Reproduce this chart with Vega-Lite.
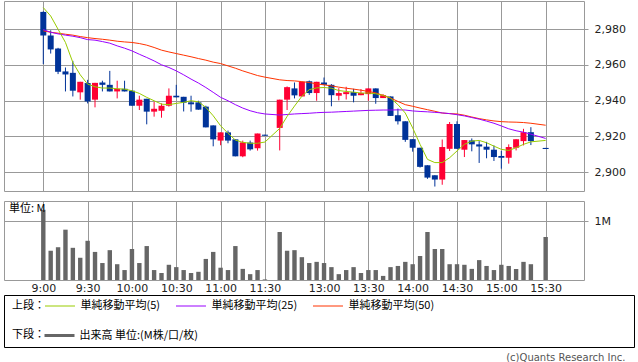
{
"$schema": "https://vega.github.io/schema/vega-lite/v6.json",
"padding": {"left": 3, "top": 0, "right": 0, "bottom": 0},
"config": {
  "view": {"stroke": "#999999"},
  "font": "DejaVu Sans",
  "axis": {"gridColor": "#999999", "gridOpacity": 1, "labelFont": "DejaVu Sans", "labelFontSize": 11, "labelColor": "#222222", "tickColor": "#999999", "domain": false}
},
"title": {"text": "(c)Quants Research Inc.", "orient": "bottom", "anchor": "end", "fontSize": 10, "fontWeight": "normal", "font": "DejaVu Sans", "color": "#555555", "offset": 5, "dx": -9},
"datasets": {
"bars": [
{"i":0,"o":2989.7,"h":2990.0,"l":2960.5,"c":2976.5,"vol":1.20,"m5":2992.1,"m25":2979.8,"m50":2979.1},
{"i":1,"o":2976.5,"h":2979.4,"l":2966.4,"c":2968.7,"vol":0.50,"m5":2987.4,"m25":2978.3,"m50":2978.3},
{"i":2,"o":2969.2,"h":2969.6,"l":2954.9,"c":2956.2,"vol":0.56,"m5":2980.0,"m25":2977.4,"m50":2977.8},
{"i":3,"o":2956.4,"h":2958.6,"l":2945.2,"c":2954.7,"vol":0.86,"m5":2972.6,"m25":2976.7,"m50":2977.2},
{"i":4,"o":2955.6,"h":2962.3,"l":2942.4,"c":2945.6,"vol":0.55,"m5":2961.4,"m25":2976.1,"m50":2976.7},
{"i":5,"o":2944.7,"h":2950.6,"l":2940.6,"c":2950.6,"vol":0.38,"m5":2954.5,"m25":2975.3,"m50":2975.9},
{"i":6,"o":2949.9,"h":2951.7,"l":2938.5,"c":2939.6,"vol":0.67,"m5":2949.3,"m25":2974.2,"m50":2975.3},
{"i":7,"o":2940.6,"h":2950.0,"l":2936.3,"c":2950.0,"vol":0.48,"m5":2947.8,"m25":2973.9,"m50":2974.8},
{"i":8,"o":2950.2,"h":2951.2,"l":2945.2,"c":2948.9,"vol":0.29,"m5":2947.1,"m25":2973.1,"m50":2974.4},
{"i":9,"o":2948.9,"h":2956.7,"l":2945.2,"c":2945.2,"vol":0.51,"m5":2947.1,"m25":2972.2,"m50":2973.9},
{"i":10,"o":2945.2,"h":2951.2,"l":2941.3,"c":2946.7,"vol":0.27,"m5":2946.7,"m25":2970.7,"m50":2973.3},
{"i":11,"o":2946.7,"h":2951.2,"l":2945.2,"c":2945.2,"vol":0.17,"m5":2946.5,"m25":2969.4,"m50":2972.9},
{"i":12,"o":2945.6,"h":2946.0,"l":2937.2,"c":2937.2,"vol":0.53,"m5":2945.6,"m25":2967.9,"m50":2972.6},
{"i":13,"o":2937.2,"h":2942.8,"l":2934.8,"c":2940.6,"vol":0.29,"m5":2944.1,"m25":2966.0,"m50":2972.0},
{"i":14,"o":2941.1,"h":2941.1,"l":2926.8,"c":2933.9,"vol":0.58,"m5":2941.9,"m25":2964.2,"m50":2971.1},
{"i":15,"o":2933.9,"h":2939.4,"l":2931.1,"c":2935.5,"vol":0.17,"m5":2940.0,"m25":2962.3,"m50":2969.8},
{"i":16,"o":2934.4,"h":2938.5,"l":2930.5,"c":2937.2,"vol":0.12,"m5":2938.1,"m25":2960.1,"m50":2968.3},
{"i":17,"o":2937.2,"h":2946.9,"l":2936.7,"c":2942.8,"vol":0.26,"m5":2937.8,"m25":2958.6,"m50":2967.3},
{"i":18,"o":2942.8,"h":2948.9,"l":2941.9,"c":2941.9,"vol":0.22,"m5":2938.5,"m25":2956.7,"m50":2966.4},
{"i":19,"o":2942.2,"h":2942.2,"l":2934.0,"c":2938.9,"vol":0.17,"m5":2939.1,"m25":2954.5,"m50":2965.5},
{"i":20,"o":2939.1,"h":2942.8,"l":2933.9,"c":2938.0,"vol":0.12,"m5":2940.0,"m25":2952.1,"m50":2964.6},
{"i":21,"o":2939.1,"h":2940.0,"l":2935.0,"c":2935.0,"vol":0.14,"m5":2939.4,"m25":2949.9,"m50":2963.6},
{"i":22,"o":2936.7,"h":2937.2,"l":2925.1,"c":2925.1,"vol":0.36,"m5":2936.3,"m25":2947.4,"m50":2962.7},
{"i":23,"o":2926.2,"h":2926.2,"l":2914.5,"c":2918.4,"vol":0.48,"m5":2931.6,"m25":2944.7,"m50":2961.6},
{"i":24,"o":2917.7,"h":2922.3,"l":2915.1,"c":2922.3,"vol":0.21,"m5":2926.0,"m25":2941.9,"m50":2960.8},
{"i":25,"o":2922.3,"h":2923.3,"l":2916.2,"c":2917.7,"vol":0.17,"m5":2921.8,"m25":2940.0,"m50":2959.5},
{"i":26,"o":2918.4,"h":2918.4,"l":2908.9,"c":2908.9,"vol":0.58,"m5":2918.0,"m25":2937.8,"m50":2958.2},
{"i":27,"o":2908.9,"h":2917.7,"l":2908.4,"c":2916.7,"vol":0.19,"m5":2916.7,"m25":2935.9,"m50":2956.7},
{"i":28,"o":2916.6,"h":2917.7,"l":2912.1,"c":2912.8,"vol":0.10,"m5":2916.2,"m25":2934.4,"m50":2955.4},
{"i":29,"o":2913.4,"h":2921.6,"l":2912.1,"c":2921.6,"vol":0.17,"m5":2916.2,"m25":2933.3,"m50":2954.1},
{"i":30,"o":2921.0,"h":2921.0,"l":2920.4,"c":2920.4,"vol":0.01,"m5":2916.9,"m25":2932.6,"m50":2953.2},
{"i":32,"o":2924.8,"h":2940.6,"l":2912.2,"c":2940.6,"vol":0.82,"m5":2924.5,"m25":2932.0,"m50":2951.7},
{"i":33,"o":2940.6,"h":2948.0,"l":2934.8,"c":2947.6,"vol":0.50,"m5":2931.2,"m25":2932.3,"m50":2951.3},
{"i":34,"o":2946.9,"h":2950.2,"l":2941.3,"c":2943.0,"vol":0.51,"m5":2937.0,"m25":2932.6,"m50":2951.1},
{"i":35,"o":2942.4,"h":2950.6,"l":2942.4,"c":2950.6,"vol":0.39,"m5":2942.5,"m25":2932.8,"m50":2950.7},
{"i":36,"o":2950.9,"h":2951.3,"l":2943.3,"c":2944.3,"vol":0.29,"m5":2946.2,"m25":2933.0,"m50":2950.2},
{"i":37,"o":2944.3,"h":2950.6,"l":2940.0,"c":2950.6,"vol":0.31,"m5":2947.2,"m25":2933.3,"m50":2949.4},
{"i":38,"o":2950.2,"h":2953.0,"l":2948.7,"c":2948.9,"vol":0.29,"m5":2947.4,"m25":2933.5,"m50":2948.9},
{"i":39,"o":2948.9,"h":2949.3,"l":2936.9,"c":2943.1,"vol":0.22,"m5":2947.0,"m25":2933.6,"m50":2948.3},
{"i":40,"o":2942.8,"h":2947.0,"l":2940.2,"c":2944.3,"vol":0.10,"m5":2945.7,"m25":2933.8,"m50":2947.6},
{"i":41,"o":2943.7,"h":2947.8,"l":2940.7,"c":2944.8,"vol":0.17,"m5":2945.2,"m25":2934.0,"m50":2947.0},
{"i":42,"o":2944.8,"h":2946.7,"l":2939.1,"c":2942.8,"vol":0.22,"m5":2944.8,"m25":2934.2,"m50":2946.5},
{"i":43,"o":2943.1,"h":2946.5,"l":2943.1,"c":2944.3,"vol":0.12,"m5":2944.3,"m25":2934.4,"m50":2945.9},
{"i":44,"o":2943.7,"h":2946.9,"l":2940.0,"c":2946.9,"vol":0.17,"m5":2944.3,"m25":2934.6,"m50":2945.2},
{"i":45,"o":2946.9,"h":2946.9,"l":2938.3,"c":2941.5,"vol":0.17,"m5":2943.9,"m25":2934.7,"m50":2944.4},
{"i":46,"o":2941.5,"h":2943.7,"l":2941.5,"c":2943.1,"vol":0.07,"m5":2943.0,"m25":2934.8,"m50":2943.0},
{"i":47,"o":2942.4,"h":2942.4,"l":2931.5,"c":2931.5,"vol":0.22,"m5":2941.5,"m25":2934.8,"m50":2941.5},
{"i":48,"o":2931.9,"h":2935.6,"l":2926.7,"c":2928.5,"vol":0.24,"m5":2937.8,"m25":2934.9,"m50":2939.6},
{"i":49,"o":2928.5,"h":2928.5,"l":2917.0,"c":2918.1,"vol":0.31,"m5":2933.1,"m25":2934.8,"m50":2937.8},
{"i":50,"o":2918.5,"h":2918.5,"l":2911.5,"c":2913.7,"vol":0.27,"m5":2924.8,"m25":2934.3,"m50":2936.9},
{"i":51,"o":2913.7,"h":2913.7,"l":2902.6,"c":2903.0,"vol":0.41,"m5":2915.6,"m25":2934.0,"m50":2935.9},
{"i":52,"o":2903.9,"h":2903.9,"l":2896.3,"c":2897.0,"vol":0.82,"m5":2907.2,"m25":2933.8,"m50":2935.0},
{"i":53,"o":2898.3,"h":2898.3,"l":2892.0,"c":2895.9,"vol":0.53,"m5":2905.4,"m25":2933.5,"m50":2934.1},
{"i":54,"o":2895.9,"h":2918.3,"l":2893.0,"c":2914.1,"vol":0.53,"m5":2905.4,"m25":2933.2,"m50":2933.1},
{"i":55,"o":2913.1,"h":2928.1,"l":2911.9,"c":2927.0,"vol":0.27,"m5":2908.1,"m25":2932.8,"m50":2932.8},
{"i":56,"o":2927.0,"h":2928.5,"l":2913.1,"c":2913.1,"vol":0.27,"m5":2911.9,"m25":2932.2,"m50":2932.6},
{"i":57,"o":2912.6,"h":2918.0,"l":2908.5,"c":2918.0,"vol":0.26,"m5":2915.6,"m25":2931.5,"m50":2931.9},
{"i":58,"o":2917.8,"h":2918.9,"l":2911.7,"c":2915.6,"vol":0.19,"m5":2917.4,"m25":2930.6,"m50":2930.9},
{"i":59,"o":2915.6,"h":2917.4,"l":2905.2,"c":2914.4,"vol":0.34,"m5":2917.8,"m25":2929.7,"m50":2930.0},
{"i":60,"o":2914.3,"h":2917.0,"l":2907.8,"c":2912.6,"vol":0.24,"m5":2916.5,"m25":2928.6,"m50":2929.3},
{"i":61,"o":2912.6,"h":2915.0,"l":2906.3,"c":2908.5,"vol":0.17,"m5":2914.6,"m25":2927.4,"m50":2928.7},
{"i":62,"o":2909.1,"h":2911.9,"l":2902.0,"c":2908.1,"vol":0.26,"m5":2912.8,"m25":2925.9,"m50":2928.3},
{"i":63,"o":2908.1,"h":2915.6,"l":2904.8,"c":2914.1,"vol":0.24,"m5":2912.2,"m25":2924.3,"m50":2928.1},
{"i":64,"o":2913.7,"h":2918.5,"l":2912.2,"c":2918.5,"vol":0.19,"m5":2913.7,"m25":2923.2,"m50":2928.0},
{"i":65,"o":2917.4,"h":2924.3,"l":2915.0,"c":2922.4,"vol":0.31,"m5":2915.6,"m25":2922.4,"m50":2927.8},
{"i":66,"o":2922.4,"h":2925.2,"l":2915.2,"c":2917.4,"vol":0.27,"m5":2917.0,"m25":2921.3,"m50":2927.4},
{"i":68,"o":2913.6,"h":2913.6,"l":2913.0,"c":2913.0,"vol":0.735,"m5":2917.8,"m25":2918.9,"m50":2926.3}
]
},
"spacing": 0,
"vconcat": [
{
"spacing": 8,
"vconcat": [
{
  "width": 580, "height": 190,
  "data": {"name": "bars"},
  "layer": [
    {
      "mark": {"type": "rule", "strokeWidth": 1},
      "encoding": {
        "x": {"field": "i", "type": "quantitative", "title": null, "scale": {"domain": [-5.32, 73.19], "nice": false, "zero": false, "padding": 0}, "axis": {"values": [0,6,12,18,24,30,38,44,50,56,62,68], "grid": true, "labels": false, "ticks": false, "domain": false, "title": null}},
        "y": {"field": "l", "type": "quantitative", "title": null, "scale": {"domain": [2889.5, 2995.8], "nice": false, "zero": false, "padding": 0}, "axis": {"orient": "right", "values": [2900, 2920, 2940, 2960, 2980], "format": ",d", "grid": true, "tickSize": 4, "labelPadding": 6, "title": null}},
        "y2": {"field": "h"},
        "color": {"condition": {"test": "datum.c >= datum.o", "value": "#ff0033"}, "value": "#003399"}
      }
    },
    {
      "mark": {"type": "bar", "size": 6},
      "encoding": {
        "x": {"field": "i", "type": "quantitative", "title": null},
        "y": {"field": "o", "type": "quantitative", "title": null},
        "y2": {"field": "c"},
        "color": {"condition": {"test": "datum.c >= datum.o", "value": "#ff0033"}, "value": "#003399"}
      }
    },
    {
      "transform": [{"fold": ["m50", "m25", "m5"], "as": ["s", "val"]}],
      "mark": {"type": "line", "strokeWidth": 1},
      "encoding": {
        "x": {"field": "i", "type": "quantitative", "title": null},
        "y": {"field": "val", "type": "quantitative", "title": null},
        "stroke": {"field": "s", "type": "nominal", "scale": {"domain": ["m5", "m25", "m50"], "range": ["#99cc00", "#9900ff", "#ff3300"]},
          "legend": {"orient": "none", "legendX": 8, "legendY": 299, "direction": "horizontal", "title": "上段：", "titleOrient": "left", "titleFontWeight": "normal", "titleFontSize": 11, "titleColor": "#000000", "titleFont": "Noto Sans CJK JP", "titlePadding": 9, "symbolType": "M-2.727,0H2.727", "symbolSize": 121, "symbolStrokeWidth": 1, "labelFont": "Noto Sans CJK JP", "labelFontSize": 11, "labelColor": "#000000", "labelOffset": 14.5, "columnPadding": 13, "labelLimit": 200, "padding": 0,
            "labelExpr": "datum.label == 'm5' ? '単純移動平均(5)' : datum.label == 'm25' ? '単純移動平均(25)' : '単純移動平均(50)'"}}
      }
    }
  ]
},
{
  "width": 580, "height": 79,
  "layer": [
    {
      "data": {"name": "bars"},
      "mark": {"type": "bar", "size": 4.4},
      "encoding": {
        "x": {"field": "i", "type": "quantitative", "title": null, "scale": {"domain": [-5.32, 73.19], "nice": false, "zero": false, "padding": 0}, "axis": {"values": [0,6,12,18,24,30,38,44,50,56,62,68], "labelExpr": "['9:00','9:30','10:00','10:30','11:00','11:30','13:00','13:30','14:00','14:30','15:00','15:30'][indexof([0,6,12,18,24,30,38,44,50,56,62,68], datum.value)]", "grid": true, "ticks": false, "domain": false, "labelPadding": 2, "labelOverlap": false, "labelFlush": false, "title": null}},
        "y": {"field": "vol", "type": "quantitative", "title": null, "scale": {"domain": [0, 1.35], "nice": false, "padding": 0}, "axis": {"orient": "right", "values": [1], "labelExpr": "'1M'", "grid": true, "tickSize": 4, "labelPadding": 6, "title": null}},
        "fill": {"datum": "出来高 単位:(M株/口/枚)", "scale": {"range": ["#666666"]},
          "legend": {"orient": "none", "legendX": 8, "legendY": 329, "direction": "horizontal", "title": "下段：", "titleOrient": "left", "titleFontWeight": "normal", "titleFontSize": 11, "titleColor": "#000000", "titleFont": "Noto Sans CJK JP", "titlePadding": 9, "symbolType": "M-2.727,-0.2727H2.727V0.2727H-2.727Z", "symbolSize": 121, "symbolStrokeWidth": 0, "labelFont": "Noto Sans CJK JP", "labelFontSize": 11, "labelColor": "#000000", "labelOffset": 14.5, "labelLimit": 300, "padding": 0}}
      }
    },
    {
      "data": {"values": [{}]},
      "mark": {"type": "text", "text": "単位: M", "align": "left", "baseline": "middle", "fontSize": 11, "font": "Noto Sans CJK JP", "color": "#000000"},
      "encoding": {"x": {"datum": -4.64}, "y": {"datum": 1.213}}
    }
  ]
}
]
},
{
  "width": 630, "height": 52,
  "view": {"stroke": "#000000"},
  "data": {"values": [{}]},
  "mark": {"type": "text", "text": ""}
}
]
}
